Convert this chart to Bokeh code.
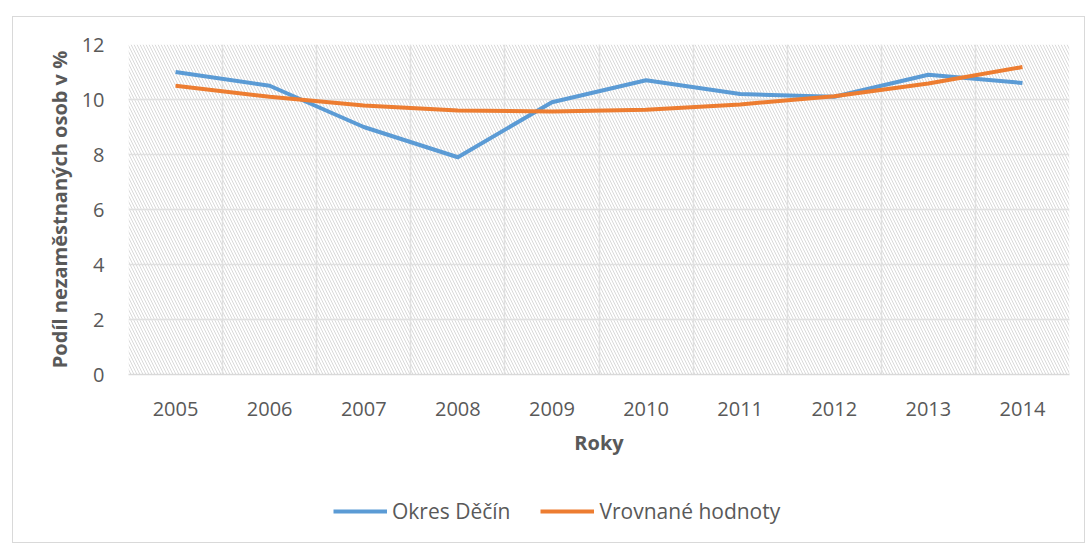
from bokeh.plotting import figure
from bokeh.layouts import column
from bokeh.models import (ColumnDataSource, FixedTicker, Legend, LegendItem,
                          BoxAnnotation)
from bokeh.embed import file_html
from bokeh.resources import INLINE

years = [2005, 2006, 2007, 2008, 2009, 2010, 2011, 2012, 2013, 2014]
okres_decin = [11.0, 10.5, 9.0, 7.9, 9.9, 10.7, 10.2, 10.1, 10.9, 10.6]
vrovnane = [10.5, 10.1, 9.78, 9.6, 9.56, 9.63, 9.82, 10.12, 10.58, 11.18]
y_ticks = [0, 2, 4, 6, 8, 10, 12]
series_names = ["Okres Děčín", "Vrovnané hodnoty"]

FONT = "Open Sans"
TXT = "#595959"
GRID = "#e0e0e0"
BLUE = "#5b9bd5"
ORANGE = "#ed7d31"

src = ColumnDataSource(dict(x=years, a=okres_decin, b=vrovnane))

p = figure(width=1071, height=448, output_backend="svg", toolbar_location=None,
           x_range=(years[0] - 0.5, years[-1] + 0.5), y_range=(0, 12))
p.min_border_left = 115
p.min_border_right = 15
p.min_border_top = 27
p.min_border_bottom = 91
p.outline_line_color = None
p.background_fill_color = "white"
p.border_fill_color = "white"

# hatched plot area
p.add_layout(BoxAnnotation(fill_alpha=0, line_color=None, level="image",
                           hatch_pattern="left_diagonal_line", hatch_color="#d9d9d9",
                           hatch_scale=6, hatch_weight=1))

p.xgrid.ticker = FixedTicker(ticks=[y - 0.5 for y in years] + [years[-1] + 0.5])
p.xgrid.grid_line_color = GRID
p.xgrid.grid_line_width = 1.5
p.ygrid.ticker = FixedTicker(ticks=y_ticks)
p.ygrid.grid_line_color = GRID
p.ygrid.grid_line_width = 1.5

p.xaxis.ticker = FixedTicker(ticks=years)
p.yaxis.ticker = FixedTicker(ticks=y_ticks)
for ax in (p.xaxis[0], p.yaxis[0]):
    ax.major_tick_line_color = None
    ax.minor_tick_line_color = None
    ax.major_label_text_font = FONT
    ax.major_label_text_font_size = "20px"
    ax.major_label_text_color = TXT
    ax.axis_label_text_font = FONT
    ax.axis_label_text_font_style = "bold"
    ax.axis_label_text_color = TXT
p.yaxis.axis_line_color = None
p.xaxis.axis_line_color = "#d9d9d9"
p.xaxis.axis_line_width = 1.5
p.xaxis.major_label_standoff = 21
p.xaxis.axis_label = "Roky"
p.xaxis.axis_label_text_font_size = "20px"
p.xaxis.axis_label_standoff = 10
p.yaxis.axis_label = "Podíl nezaměstnaných osob v %"
p.yaxis.axis_label_text_font_size = "20px"
p.yaxis.major_label_standoff = 18
p.yaxis.axis_label_standoff = 6

p.line("x", "a", source=src, line_color=BLUE, line_width=4, line_join="round")
p.line("x", "b", source=src, line_color=ORANGE, line_width=4, line_join="round")

# legend strip below the chart
p2 = figure(width=1071, height=77, output_backend="svg", toolbar_location=None,
            x_range=(0, 1), y_range=(0, 1), x_axis_type=None, y_axis_type=None,
            min_border=0)
p2.outline_line_color = None
p2.grid.visible = False
l1 = p2.line("x", "a", source=src, line_color=BLUE, line_width=4)
l2 = p2.line("x", "b", source=src, line_color=ORANGE, line_width=4)
legend = Legend(items=[LegendItem(label=series_names[0], renderers=[l1]),
                       LegendItem(label=series_names[1], renderers=[l2])],
                orientation="horizontal", location=(205, 17),
                label_text_font=FONT, label_text_font_size="21px",
                label_text_color=TXT, glyph_width=54, label_standoff=5,
                spacing=30, border_line_color=None, background_fill_alpha=0,
                margin=0, padding=0)
p2.add_layout(legend)

layout = column(p, p2, spacing=0, margin=(16, 0, 0, 12),
                styles={"border": "1px solid #d9d9d9"})

open("out.html", "w").write(file_html(layout, INLINE))
